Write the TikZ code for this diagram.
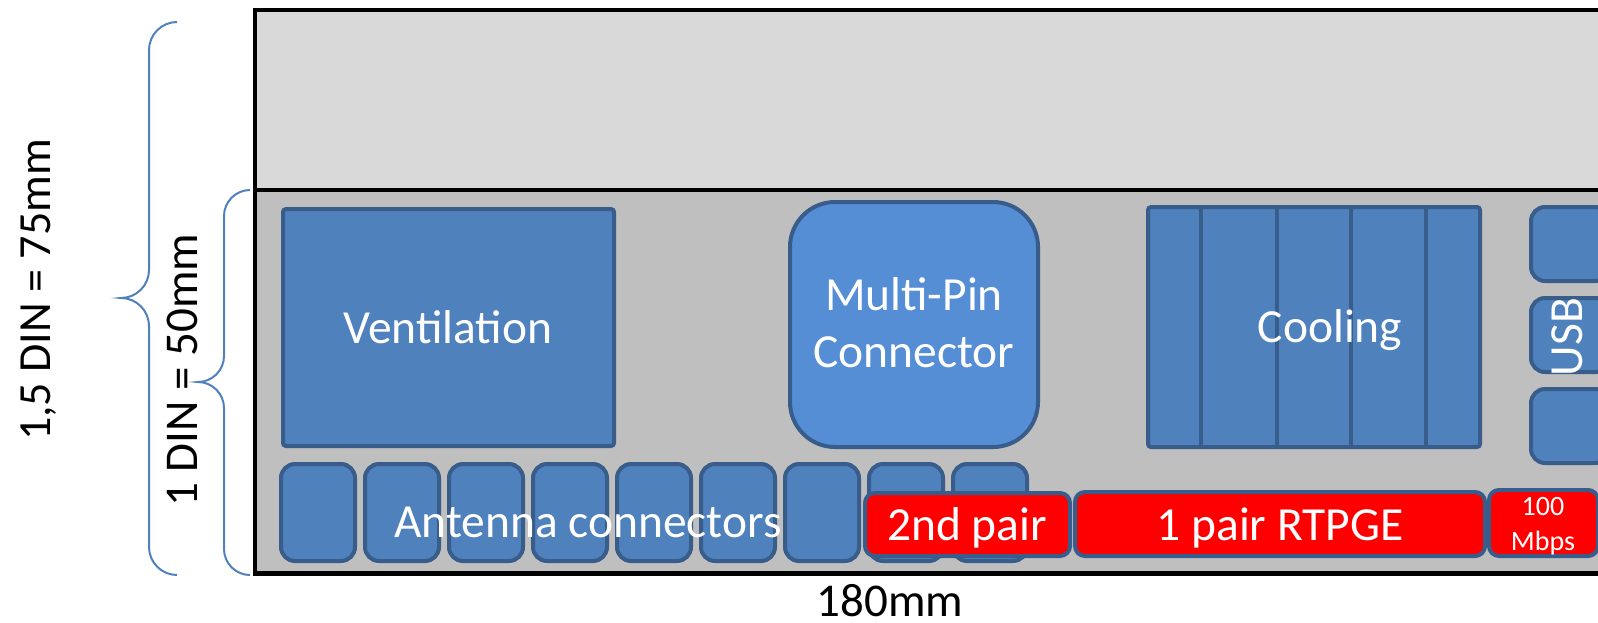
\documentclass[tikz,border=0pt]{standalone}
\usepackage{fontspec}
\setmainfont{Carlito}
\definecolor{boxblue}{HTML}{4F81BD}
\definecolor{boxedge}{HTML}{385D8A}
\definecolor{mpblue}{HTML}{558ED5}
\definecolor{topgray}{HTML}{D9D9D9}
\definecolor{botgray}{HTML}{BFBFBF}
\definecolor{bracecol}{HTML}{4F81BD}
\definecolor{redfill}{HTML}{FF0000}
\begin{document}
\begin{tikzpicture}[x=1pt,y=-1pt,
  bluebox/.style={draw=boxedge, fill=boxblue, line width=4pt, inner sep=0pt, rounded corners=3pt},
  antbox/.style={bluebox, rounded corners=14pt, minimum width=74pt, minimum height=97pt},
  usbbox/.style={bluebox, rounded corners=14pt, minimum width=78pt, minimum height=74pt},
  redbox/.style={draw=boxedge, fill=redfill, line width=4pt, rounded corners=10pt, inner sep=0pt},
  lbl/.style={text=white, font=\fontsize{47.5}{47.5}\selectfont, anchor=base, inner sep=0pt},
  smalllbl/.style={lbl, font=\fontsize{28}{28}\selectfont},
  dimlbl/.style={text=black, font=\fontsize{47}{47}\selectfont, anchor=base, inner sep=0pt},
  framepen/.style={line width=4.5pt, black},
  bracepen/.style={draw=bracecol, line width=2pt}
]
\useasboundingbox (0,0) rectangle (1598,622);
\clip (0,0) rectangle (1598,622);

% frame
\fill[topgray] (255,10) rectangle (1620,190);
\fill[botgray] (255,190) rectangle (1620,573.5);
\draw[framepen] (1620,10) -- (255,10) -- (255,573.5) -- (1620,573.5);
\draw[framepen] (255,190) -- (1620,190);

% braces
\draw[bracepen] (177,22) .. controls (161.6,22) and (149,34.6) .. (149,50) -- (149,270)
  .. controls (149,285.4) and (136.4,298) .. (121,298)
  .. controls (136.4,298) and (149,310.6) .. (149,326) -- (149,547)
  .. controls (149,562.4) and (161.6,575) .. (177,575);
\draw[bracepen] (250,190) .. controls (235.7,190) and (224,201.7) .. (224,216) -- (224,356)
  .. controls (224,370.3) and (212.3,382) .. (198,382)
  .. controls (212.3,382) and (224,393.7) .. (224,408) -- (224,549)
  .. controls (224,563.3) and (235.7,575) .. (250,575);

% big boxes
\node[bluebox, minimum width=331pt, minimum height=237pt] (vent) at (448.5,327.5) {};
\node[bluebox, fill=mpblue, rounded corners=45pt, minimum width=248pt, minimum height=245pt] (mpc) at (914,324.5) {};
\node[bluebox, minimum width=332pt, minimum height=240pt] (cool) at (1314,327) {};
\foreach \xx in {1201,1277,1351,1426}
  \draw[boxedge, line width=4pt] (cool.north -| \xx,0) -- (cool.south -| \xx,0);

% USB column
\node[usbbox] (usb1) at (1570,244) {};
\node[usbbox] (usb2) at (1570,335) {};
\node[usbbox] (usb3) at (1570,426) {};

% antenna connectors
\foreach \i in {0,...,8}
  \node[antbox] (ant\i) at ({318+84*\i},512.5) {};

% red boxes
\node[redbox, minimum width=205pt, minimum height=63pt] (pair2) at (967.5,524.5) {};
\node[redbox, minimum width=410pt, minimum height=64pt] (rtpge) at (1280,524) {};
\node[redbox, minimum width=109pt, minimum height=66pt] (mbpsbox) at (1543.5,523) {};

% labels
\node[lbl] (ventT) at (448,343) {Ventilation};
\node[lbl] (mpT1) at (914,310) {Multi-Pin};
\node[lbl] (mpT2) at (914,367) {Connector};
\node[lbl] (coolT) at (1330,342) {Cooling};
\node[lbl, rotate=90] (usbT) at (1582,337) {USB};
\node[lbl] (antT) at (588,537) {Antenna connectors};
\node[lbl] (pair2T) at (967,540) {2nd pair};
\node[lbl] (rtpgeT) at (1280,540) {1 pair RTPGE};
\node[smalllbl] (hundT) at (1543,515) {100};
\node[smalllbl] (mbpsT) at (1543,550) {Mbps};

\node[dimlbl, rotate=90, font=\fontsize{46}{46}\selectfont] (din15) at (50,290) {1,5 DIN = 75mm};
\node[dimlbl, rotate=90] (din1) at (197,370) {1 DIN = 50mm};
\node[dimlbl] (w180) at (890,616) {180mm};
\end{tikzpicture}
\end{document}
